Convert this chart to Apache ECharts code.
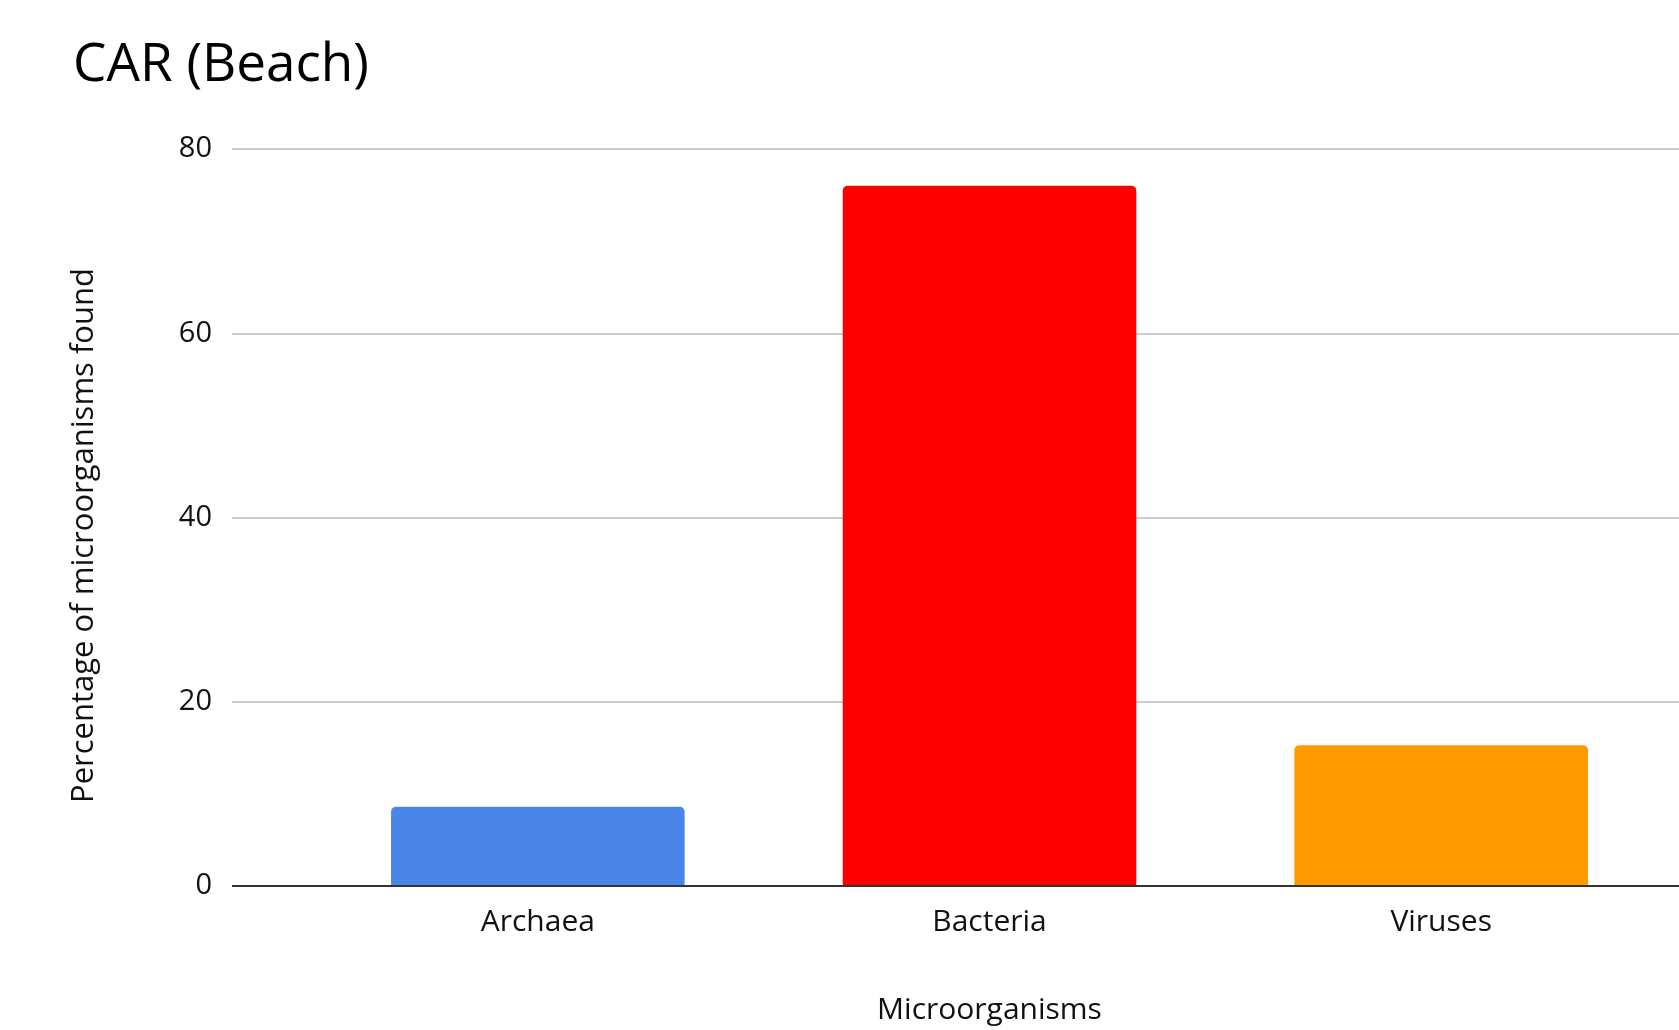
<!DOCTYPE html>
<html>
<head>
<meta charset="utf-8">
<script src="https://cdn.jsdelivr.net/npm/echarts@6/dist/echarts.min.js"></script>
<style>
  html, body { margin: 0; padding: 0; background: #fff; }
  #chart { width: 1679px; height: 1030px; }
</style>
</head>
<body>
<div id="chart"></div>
<script>
// Share of microorganisms found at the beach site
const categories = ['Archaea', 'Bacteria', 'Viruses'];
const percentages = [8.5, 76.0, 15.2];
const barColors = ['#4a86e8', '#ff0000', '#ff9900'];
const yTicks = [0, 20, 40, 60, 80];

const FONT = '"Open Sans", "Noto Sans", sans-serif';
const TOP = 149, BOTTOM = 144;

const chart = echarts.init(document.getElementById('chart'), null, { renderer: 'canvas' });

chart.setOption({
  backgroundColor: '#ffffff',
  animation: false,
  title: {
    text: 'CAR (Beach)',
    left: 68,
    top: 34,
    textStyle: { fontFamily: FONT, fontSize: 53, fontWeight: 'normal', color: '#000' }
  },
  grid: [
    // full-width grid carrying the value axis and gridlines
    { left: 232, right: 0, top: TOP, bottom: BOTTOM },
    // inner grid where the category bands and bars sit
    { left: 312, right: 12, top: TOP, bottom: BOTTOM }
  ],
  xAxis: [
    {
      gridIndex: 0, type: 'value', min: 0, max: 1,
      axisLine: { show: false }, axisTick: { show: false },
      axisLabel: { show: false }, splitLine: { show: false }
    },
    {
      gridIndex: 1, type: 'category', data: categories,
      axisLine: { show: false }, axisTick: { show: false },
      axisLabel: { fontFamily: FONT, fontSize: 30, color: '#111', margin: 22 },
      name: 'Microorganisms',
      nameLocation: 'middle',
      nameGap: 110,
      nameTextStyle: { fontFamily: FONT, fontSize: 30, color: '#111' }
    }
  ],
  yAxis: [
    {
      gridIndex: 0, type: 'value',
      min: yTicks[0], max: yTicks[yTicks.length - 1], interval: yTicks[1] - yTicks[0],
      axisLine: { show: false }, axisTick: { show: false },
      axisLabel: { fontFamily: FONT, fontSize: 29, color: '#111', margin: 20 },
      splitLine: { lineStyle: { color: '#cccccc', width: 2 } },
      name: 'Percentage of microorganisms found',
      nameLocation: 'middle',
      nameGap: 132,
      nameTextStyle: { fontFamily: FONT, fontSize: 31, color: '#111', padding: [0, 36, 0, 0] }
    },
    {
      gridIndex: 1, type: 'value',
      min: yTicks[0], max: yTicks[yTicks.length - 1],
      show: false, splitLine: { show: false }
    }
  ],
  series: [
    {
      type: 'bar',
      xAxisIndex: 1, yAxisIndex: 1,
      barWidth: '65%',
      data: percentages.map((v, i) => ({
        value: v,
        itemStyle: { color: barColors[i], borderRadius: [5, 5, 0, 0] }
      })),
      z: 2
    },
    {
      // baseline along the bottom of the plot
      type: 'line',
      xAxisIndex: 0, yAxisIndex: 0,
      data: [[0, 0], [1, 0]],
      symbol: 'none',
      lineStyle: { color: '#333333', width: 2 },
      z: 5,
      silent: true
    }
  ]
});
</script>
</body>
</html>
